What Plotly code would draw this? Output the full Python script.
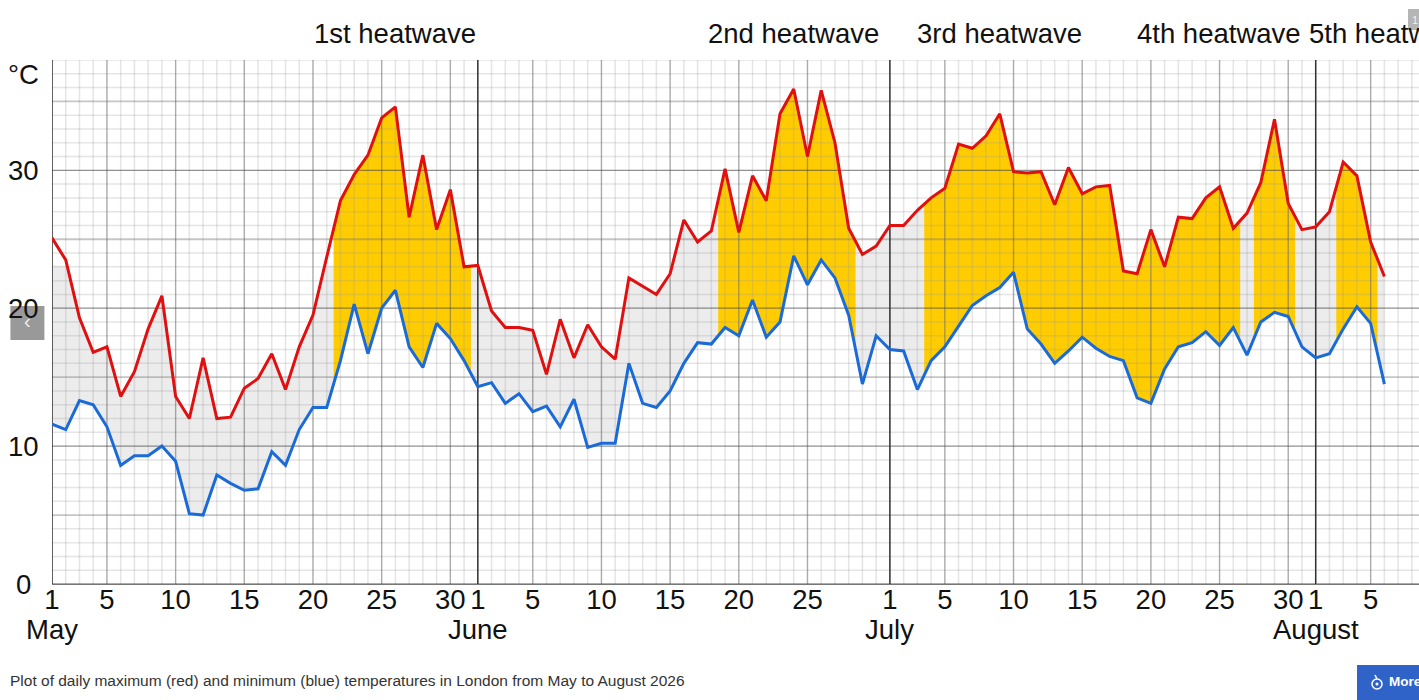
#!/usr/bin/env python3

import numpy as np
import plotly.graph_objects as go

# daily max / min, one value per day from 1 May to 6 August
temp_max = [25.1, 23.5, 19.3, 16.8, 17.2, 13.6, 15.4, 18.5, 20.9, 13.6, 12.0, 16.4, 12.0, 12.1, 14.2, 14.9,
            16.7, 14.1, 17.2, 19.5, 23.7, 27.8, 29.7, 31.1, 33.8, 34.6, 26.6, 31.1, 25.7, 28.6, 23.0,
            23.1, 19.8, 18.6, 18.6, 18.4, 15.2, 19.2, 16.4, 18.8, 17.2, 16.3, 22.2, 21.6, 21.0, 22.5, 26.4,
            24.8, 25.6, 30.1, 25.5, 29.6, 27.8, 34.1, 35.9, 31.0, 35.8, 32.0, 25.8, 23.9, 24.5,
            26.0, 26.0, 27.1, 28.0, 28.7, 31.9, 31.6, 32.5, 34.1, 29.9, 29.8, 29.9, 27.5, 30.2, 28.3, 28.8,
            28.9, 22.7, 22.5, 25.7, 23.0, 26.6, 26.5, 28.0, 28.8, 25.8, 26.9, 29.1, 33.7, 27.6, 25.7,
            25.9, 27.0, 30.6, 29.6, 24.8, 22.3]
temp_min = [11.6, 11.2, 13.3, 13.0, 11.4, 8.6, 9.3, 9.3, 10.0, 8.9, 5.1, 5.0, 7.9, 7.3, 6.8, 6.9,
            9.6, 8.6, 11.2, 12.8, 12.8, 16.2, 20.3, 16.7, 20.0, 21.3, 17.2, 15.7, 18.9, 17.8, 16.2,
            14.3, 14.6, 13.1, 13.8, 12.5, 12.9, 11.4, 13.4, 9.9, 10.2, 10.2, 16.0, 13.1, 12.8, 14.0, 16.0,
            17.5, 17.4, 18.6, 18.0, 20.6, 17.9, 19.0, 23.8, 21.7, 23.5, 22.2, 19.5, 14.5, 18.0,
            17.0, 16.9, 14.1, 16.2, 17.2, 18.7, 20.2, 20.9, 21.5, 22.6, 18.5, 17.4, 16.0, 16.9, 17.9, 17.1,
            16.5, 16.2, 13.5, 13.1, 15.6, 17.2, 17.5, 18.3, 17.3, 18.6, 16.6, 19.0, 19.7, 19.4, 17.2,
            16.4, 16.7, 18.5, 20.1, 18.9, 14.5]

month_names = ["May", "June", "July", "August"]
month_lengths = [31, 30, 31, 31]
day_ticks = [1, 5, 10, 15, 20, 25, 30]
y_ticks = [0, 10, 20, 30]

# first and last day of each orange block, counted from 1 May
heatwave_first = [21, 49, 64, 88, 94]
heatwave_last = [30, 58, 86, 90, 96]
heatwave_labels = ["1st heatwave", "2nd heatwave", "3rd heatwave", "4th heatwave", "5th heatwave"]
heatwave_label_x = [18.92, 47.59, 62.8, 78.82, 91.33]

may_fill_cap = 23.1

PX_PER_DAY = 13.74
PLOT_LEFT = 51.6
PLOT_TOP = 60
PLOT_BOTTOM = 584
X_END = (1419 - PLOT_LEFT) / PX_PER_DAY
FONT = "Liberation Sans"
BIG = 27.5

days = np.arange(len(temp_max))
month_starts = [sum(month_lengths[:i]) for i in range(len(month_lengths))]


def paper_x(px):
    return (px - PLOT_LEFT) / (1419 - PLOT_LEFT)


def paper_y(px):
    return (PLOT_BOTTOM - px) / (PLOT_BOTTOM - PLOT_TOP)


def band(fig, x, lower, upper, color):
    fig.add_trace(go.Scatter(x=x, y=lower, mode="lines", line=dict(width=0), hoverinfo="skip"))
    fig.add_trace(go.Scatter(x=x, y=upper, mode="lines", line=dict(width=0), hoverinfo="skip",
                             fill="tonexty", fillcolor=color))


def vgrid(fig, xs, color, width):
    x, y = [], []
    for v in xs:
        x += [v, v, None]
        y += [0, 38, None]
    fig.add_trace(go.Scatter(x=x, y=y, mode="lines", line=dict(color=color, width=width), hoverinfo="skip"))


def hgrid(fig, ys, color, width):
    x, y = [], []
    for v in ys:
        x += [0, X_END, None]
        y += [v, v, None]
    fig.add_trace(go.Scatter(x=x, y=y, mode="lines", line=dict(color=color, width=width), hoverinfo="skip"))


tick_x, tick_text = [], []
five_day_x = []
for start, length in zip(month_starts, month_lengths):
    for d in day_ticks:
        # a 30 day month has no label on its last day, the next month's 1 sits there
        if d == 30 and length < 31:
            continue
        if start + d - 1 < X_END:
            tick_x.append(start + d - 1)
            tick_text.append(str(d))
            if d > 1:
                five_day_x.append(start + d - 1)

fig = go.Figure()

# grey band first, orange blocks on top, then the grid so it shows through both
fine_x = np.arange(0, len(days) - 1 + 0.05, 0.1)
fine_max = np.interp(fine_x, days, temp_max)
fine_min = np.interp(fine_x, days, temp_min)
grey_top = np.where(fine_x < month_starts[1], np.minimum(fine_max, may_fill_cap), fine_max)
band(fig, fine_x, fine_min, grey_top, "#ececec")

for first, last in zip(heatwave_first, heatwave_last):
    hw_x = np.arange(first - 0.5, last + 0.5 + 0.05, 0.5)
    band(fig, hw_x, np.interp(hw_x, days, temp_min), np.interp(hw_x, days, temp_max), "#ffcc00")

vgrid(fig, np.arange(0, X_END), "rgba(150,150,150,0.25)", 1.5)
hgrid(fig, [v for v in range(0, 39) if v % 5], "rgba(150,150,150,0.25)", 1.5)
hgrid(fig, [v for v in range(0, 39) if v % 10 == 5], "rgba(120,120,120,0.42)", 1.8)
vgrid(fig, five_day_x, "rgba(90,90,90,0.42)", 1.3)
hgrid(fig, [v for v in range(0, 39, 10)], "rgba(70,70,70,0.6)", 1.3)
vgrid(fig, month_starts, "#333333", 1.5)

fig.add_trace(go.Scatter(x=days, y=temp_max, mode="lines", name="max",
                         line=dict(color="#e01010", width=3, shape="linear")))
fig.add_trace(go.Scatter(x=days, y=temp_min, mode="lines", name="min",
                         line=dict(color="#1a6ad8", width=3, shape="linear")))

annotations = []
for label, x in zip(heatwave_labels, heatwave_label_x):
    annotations.append(dict(text=label, x=x, xref="x", y=paper_y(33), yref="paper", xanchor="left",
                            yanchor="middle", showarrow=False, font=dict(size=BIG, color="#111111")))
for name, start in zip(month_names, month_starts):
    annotations.append(dict(text=name, x=start, xref="x", y=paper_y(629), yref="paper", xanchor="center",
                            yanchor="middle", showarrow=False, font=dict(size=BIG, color="#111111")))
for v in y_ticks:
    annotations.append(dict(text=str(v), x=paper_x(23), xref="paper", y=v, yref="y", xanchor="center",
                            yanchor="middle", showarrow=False, font=dict(size=BIG, color="#111111")))
annotations.append(dict(text="°C", x=paper_x(23), xref="paper", y=paper_y(74), yref="paper", xanchor="center",
                        yanchor="middle", showarrow=False, font=dict(size=BIG, color="#111111")))
annotations.append(dict(text="Plot of daily maximum (red) and minimum (blue) temperatures in London from May to August 2026",
                        x=paper_x(8), xref="paper", y=paper_y(680), yref="paper", xanchor="left",
                        yanchor="middle", showarrow=False, font=dict(size=15.5, color="#333333")))
annotations.append(dict(text="‹", x=paper_x(27), xref="paper", y=paper_y(321), yref="paper", xanchor="center",
                        yanchor="middle", showarrow=False, font=dict(size=20, color="#f0f0f0")))
annotations.append(dict(text="1", x=paper_x(1415), xref="paper", y=paper_y(20), yref="paper", xanchor="center",
                        yanchor="middle", showarrow=False, font=dict(size=11, color="#f0f0f0")))
annotations.append(dict(text="<b>More</b>", x=paper_x(1387), xref="paper", y=paper_y(681), yref="paper",
                        xanchor="left", yanchor="middle", showarrow=False, font=dict(size=13.5, color="white")))

shapes = [
    dict(type="rect", xref="paper", yref="paper", x0=paper_x(10), x1=paper_x(44), y0=paper_y(340), y1=paper_y(306),
         fillcolor="#999999", line=dict(width=0), layer="above"),
    dict(type="rect", xref="paper", yref="paper", x0=paper_x(1408), x1=paper_x(1419), y0=paper_y(30), y1=paper_y(9),
         fillcolor="#b5b5b5", line=dict(width=0), layer="above"),
    dict(type="rect", xref="paper", yref="paper", x0=paper_x(1357), x1=paper_x(1419), y0=paper_y(700), y1=paper_y(665),
         fillcolor="#2f63c8", line=dict(width=0), layer="above"),
    dict(type="circle", xref="paper", yref="paper", x0=paper_x(1372), x1=paper_x(1382), y0=paper_y(689), y1=paper_y(679),
         line=dict(color="white", width=1.5), layer="above"),
    dict(type="circle", xref="paper", yref="paper", x0=paper_x(1375.5), x1=paper_x(1378.5), y0=paper_y(685.5), y1=paper_y(682.5),
         fillcolor="white", line=dict(width=0), layer="above"),
    dict(type="line", xref="paper", yref="paper", x0=paper_x(1375), x1=paper_x(1377), y0=paper_y(675), y1=paper_y(679),
         line=dict(color="white", width=1.5), layer="above"),
]

fig.update_layout(
    width=1419,
    height=700,
    margin=dict(l=PLOT_LEFT, r=0, t=PLOT_TOP, b=700 - PLOT_BOTTOM, pad=0),
    paper_bgcolor="white",
    plot_bgcolor="white",
    showlegend=False,
    font=dict(family=FONT, color="#111111"),
    annotations=annotations,
    shapes=shapes,
    xaxis=dict(range=[0, X_END], tickmode="array", tickvals=tick_x, ticktext=tick_text, showgrid=False,
               zeroline=False, showline=True, linecolor="#777777", linewidth=1.2, ticks="", ticklabelstandoff=-9,
               tickangle=0, tickfont=dict(size=BIG, color="#111111")),
    yaxis=dict(range=[0, 38], showgrid=False, zeroline=False, showticklabels=False, ticks=""),
)

fig.write_html("out.html", config=dict(displayModeBar=False),
               post_script="document.body.style.margin='0';document.body.style.overflow='hidden';")
